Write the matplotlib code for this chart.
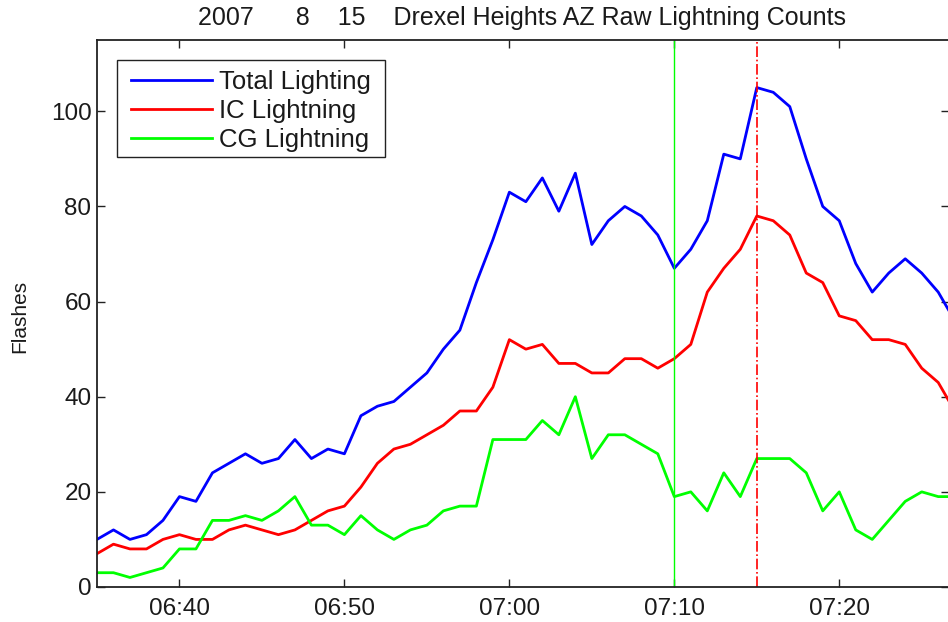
import datetime as dt

import matplotlib
matplotlib.use("Agg")
import matplotlib.pyplot as plt
import matplotlib.dates as mdates
from matplotlib.patches import Rectangle

# ---------------------------------------------------------------- data
# one count per minute, starting 06:35
START = dt.datetime(2007, 8, 15, 6, 35)
total = [10, 12, 10, 11, 14, 19, 18, 24, 26, 28, 26, 27, 31, 27, 29, 28, 36, 38,
         39, 42, 45, 50, 54, 64, 73, 83, 81, 86, 79, 87, 72, 77, 80, 78, 74, 67,
         71, 77, 91, 90, 105, 104, 101, 90, 80, 77, 68, 62, 66, 69, 66, 62, 56]
ic = [7, 9, 8, 8, 10, 11, 10, 10, 12, 13, 12, 11, 12, 14, 16, 17, 21, 26,
      29, 30, 32, 34, 37, 37, 42, 52, 50, 51, 47, 47, 45, 45, 48, 48, 46, 48,
      51, 62, 67, 71, 78, 77, 74, 66, 64, 57, 56, 52, 52, 51, 46, 43, 37]
cg = [3, 3, 2, 3, 4, 8, 8, 14, 14, 15, 14, 16, 19, 13, 13, 11, 15, 12,
      10, 12, 13, 16, 17, 17, 31, 31, 31, 35, 32, 40, 27, 32, 32, 30, 28, 19,
      20, 16, 24, 19, 27, 27, 27, 24, 16, 20, 12, 10, 14, 18, 20, 19, 19]
labels = ["Total Lighting", "IC Lightning", "CG Lightning"]
colors = ["#0000FF", "#FF0000", "#00FF00"]
marker_green = dt.datetime(2007, 8, 15, 7, 10)
marker_red = dt.datetime(2007, 8, 15, 7, 15)
times = [START + dt.timedelta(minutes=i) for i in range(len(total))]

W, H = 948, 622
FS = 17.5
TXT = "#1a1a1a"
plt.rcParams["font.family"] = ["Liberation Sans", "DejaVu Sans"]

fig = plt.figure(figsize=(W / 100, H / 100), dpi=100, facecolor="white")
ax = fig.add_axes([0.1023, 0.0563, 0.8987, 0.8794])

for y, lab, c in zip([total, ic, cg], labels, colors):
    ax.plot(times, y, color=c, lw=2.0, label=lab)

ax.axvline(marker_green, color="#00FF00", lw=1.0)
ax.axvline(marker_red, color="#FF0000", lw=1.2, ls="-.")

ax.set_xlim(START, START + dt.timedelta(minutes=51.65))
ax.set_ylim(0, 115)
ax.set_yticks([0, 20, 40, 60, 80, 100])
ax.xaxis.set_major_locator(mdates.MinuteLocator(byminute=[0, 10, 20, 30, 40, 50]))
ax.xaxis.set_major_formatter(mdates.DateFormatter("%H:%M"))

ax.tick_params(direction="in", length=6, width=1, labelsize=FS,
               top=True, right=True, colors="#222222", labelcolor=TXT)
ax.tick_params(axis="x", pad=8)
ax.tick_params(axis="y", pad=4)
for s in ax.spines.values():
    s.set_linewidth(1.3)
    s.set_color("#222222")

# legend: entries without frame, box drawn separately (MATLAB-style tight box)
box = Rectangle((117 / W, 1 - 157 / H), (385 - 117) / W, 97 / H,
                transform=fig.transFigure, facecolor="white",
                edgecolor="#222222", lw=1.0, zorder=5, clip_on=False)
ax.add_patch(box)
leg = ax.legend(loc="upper left", bbox_to_anchor=(117 / W, 1 - 56 / H),
                bbox_transform=fig.transFigure, fontsize=18.5, frameon=False,
                handlelength=3.15, handletextpad=0.27, labelspacing=0.2,
                borderpad=0.55, borderaxespad=0)
leg.set_zorder(10)
for t in leg.get_texts():
    t.set_color(TXT)

fig.text(522 / W, 1 - 18 / H,
         "2007      8    15    Drexel Heights AZ Raw Lightning Counts",
         ha="center", va="center", fontsize=18.0, color=TXT)
fig.text(20 / W, 1 - 316 / H, "Flashes", rotation=90,
         ha="center", va="center", fontsize=15, color=TXT)

fig.savefig("out.png", dpi=100, facecolor="white")
